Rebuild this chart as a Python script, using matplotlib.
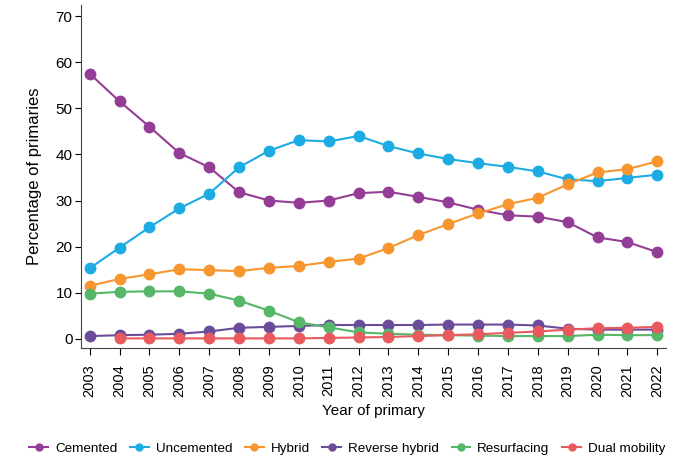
import matplotlib
matplotlib.use("Agg")
import matplotlib.pyplot as plt
from matplotlib.lines import Line2D

plt.rcParams['font.family'] = ['Liberation Sans', 'DejaVu Sans']

years = list(range(2003, 2023))
cemented = [57.5, 51.5, 46.0, 40.3, 37.2, 31.8, 30.0, 29.5, 30.0, 31.6, 31.9, 30.8, 29.6, 28.0, 26.8, 26.5, 25.3, 22.0, 21.0, 18.8]
uncemented = [15.3, 19.8, 24.2, 28.3, 31.5, 37.2, 40.8, 43.1, 42.8, 44.0, 41.8, 40.2, 39.0, 38.1, 37.3, 36.3, 34.6, 34.2, 34.9, 35.6]
hybrid = [11.5, 13.0, 14.0, 15.1, 14.9, 14.7, 15.4, 15.8, 16.7, 17.4, 19.7, 22.5, 24.9, 27.2, 29.2, 30.6, 33.5, 36.1, 36.8, 38.5]
reverse_hybrid = [0.6, 0.8, 0.9, 1.1, 1.6, 2.4, 2.6, 2.8, 3.0, 3.0, 3.0, 3.0, 3.1, 3.1, 3.1, 2.9, 2.2, 2.0, 2.0, 2.0]
resurfacing = [9.8, 10.2, 10.3, 10.3, 9.8, 8.3, 6.1, 3.6, 2.5, 1.4, 1.1, 0.9, 0.8, 0.7, 0.6, 0.6, 0.6, 0.9, 0.8, 0.8]
dm_years = list(range(2004, 2023))
dual_mobility = [0.1, 0.1, 0.1, 0.1, 0.1, 0.1, 0.1, 0.2, 0.3, 0.4, 0.6, 0.8, 1.0, 1.3, 1.6, 2.0, 2.3, 2.4, 2.6]

labels = ["Cemented", "Uncemented", "Hybrid", "Reverse hybrid", "Resurfacing", "Dual mobility"]
colors = ["#943d96", "#1cace3", "#f7962e", "#6b4c9a", "#55b767", "#e85a5d"]
series = [(years, cemented), (years, uncemented), (years, hybrid),
          (years, reverse_hybrid), (years, resurfacing), (dm_years, dual_mobility)]

fig = plt.figure(figsize=(6.73, 4.55), dpi=100)
ax = fig.add_axes([0.12, 0.235, 0.87, 0.755])

for (x, y), c, lab in zip(series, colors, labels):
    ax.plot(x, y, color=c, lw=1.5, marker='o', ms=7.5, label=lab, zorder=3)

ax.set_xlim(2002.7, 2022.3)
ax.set_ylim(-2, 72.5)
ax.set_xticks(years)
ax.set_xticklabels([str(y) for y in years], rotation=90, fontsize=10.5)
ax.set_yticks(range(0, 71, 10))
ax.tick_params(axis='y', labelsize=11, length=4, pad=2)
ax.tick_params(axis='x', length=5, pad=7)
for s in ['top', 'right']:
    ax.spines[s].set_visible(False)
ax.spines['left'].set_color('#444444')
ax.spines['bottom'].set_color('#444444')
ax.set_xlabel("Year of primary", fontsize=11, labelpad=5)
ax.set_ylabel("Percentage of primaries", fontsize=12, labelpad=10)

handles = [Line2D([0], [0], color=c, lw=1.5, marker='o', ms=5) for c in colors]
fig.legend(handles, labels, loc='lower center', bbox_to_anchor=(0.516, -0.026), ncol=6,
           frameon=False, fontsize=9.7, handlelength=1.4, handletextpad=0.5, columnspacing=0.95)

fig.savefig("out.png", dpi=100)
